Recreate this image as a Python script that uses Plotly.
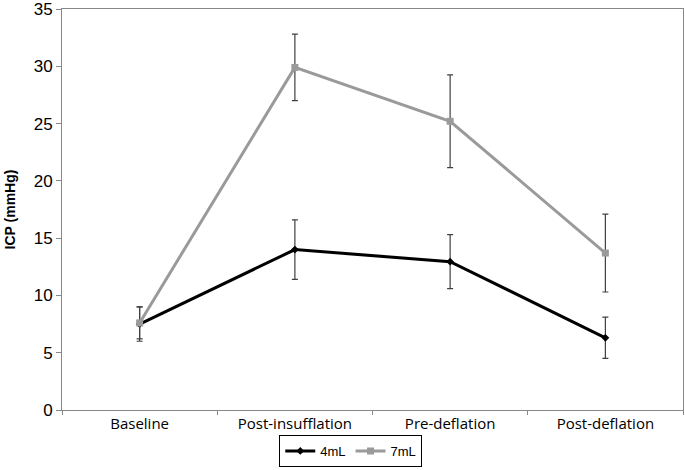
import plotly.graph_objects as go

categories = ["Baseline", "Post-insufflation", "Pre-deflation", "Post-deflation"]
icp_4ml = [7.5, 14.0, 12.95, 6.3]
err_4ml = [1.5, 2.6, 2.35, 1.8]
icp_7ml = [7.6, 29.9, 25.2, 13.7]
err_7ml = [1.4, 2.9, 4.05, 3.4]
y_ticks = [0, 5, 10, 15, 20, 25, 30, 35]

fig = go.Figure()
fig.add_trace(go.Scatter(
    x=categories, y=icp_4ml, name="4mL", mode="lines+markers",
    line=dict(color="#000000", width=3),
    marker=dict(symbol="diamond", size=6, color="#000000"),
    error_y=dict(type="data", array=err_4ml, color="#404040", thickness=1.2, width=3),
))
fig.add_trace(go.Scatter(
    x=categories, y=icp_7ml, name="7mL", mode="lines+markers",
    line=dict(color="#9a9a9a", width=3),
    marker=dict(symbol="square", size=7, color="#9a9a9a"),
    error_y=dict(type="data", array=err_7ml, color="#404040", thickness=1.2, width=3),
))

fig.update_layout(
    width=685, height=470,
    margin=dict(l=62, r=2, t=9, b=60, autoexpand=False),
    paper_bgcolor="white", plot_bgcolor="white",
    showlegend=True,
    legend=dict(orientation="h", x=0.465, xanchor="center", y=-0.142, yanchor="bottom",
                bordercolor="#000000", borderwidth=1,
                font=dict(family="Liberation Sans, Arial", size=13, color="#000"),
                itemwidth=30, tracegroupgap=0),
    font=dict(family="Liberation Sans, Arial", color="#000"),
)
fig.update_xaxes(
    type="category", tickson="boundaries", ticks="outside", ticklen=4, tickcolor="#888",
    showline=True, linecolor="#888", linewidth=1, mirror=True, showgrid=False,
    tickfont=dict(family="Open Sans", size=15, color="#000"),
    range=[-0.5, 3.5], automargin=False,
)
fig.update_yaxes(
    range=[0, 35], tickvals=y_ticks, ticks="outside", ticklen=5, tickcolor="#888",
    showline=True, linecolor="#888", linewidth=1, mirror=True, showgrid=False, zeroline=False,
    tickfont=dict(family="Liberation Sans, Arial", size=17, color="#000"), automargin=False,
    ticklabeloverflow="allow",
    title=dict(text="<b>ICP (mmHg)</b>", font=dict(family="Liberation Sans, Arial", size=14, color="#000"), standoff=14),
)

fig.write_html("out.html", config={"displayModeBar": False},
               post_script="document.body.style.margin='0';document.body.style.overflow='hidden';")
